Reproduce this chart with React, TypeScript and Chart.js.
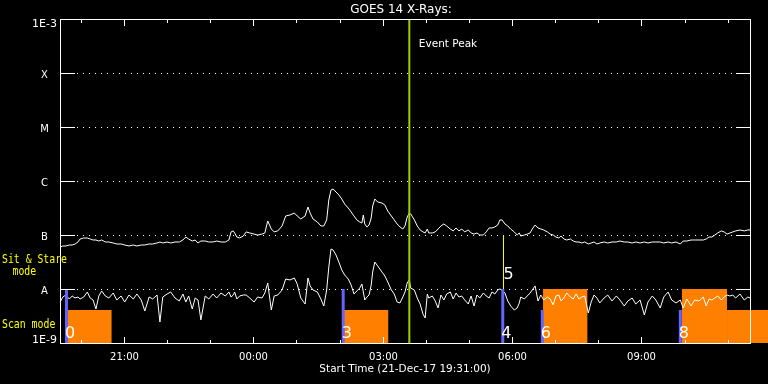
import { useEffect, useRef } from "react";
import { Chart, registerables } from "chart.js";

Chart.register(...registerables);

// ---- text ----
const chartTitle = "GOES 14 X-Rays:";
const xAxisTitle = "Start Time (21-Dec-17 19:31:00)";
const eventLabel = "Event Peak";
const sitStareLabel = ["Sit & Stare", "mode"];
const scanLabel = "Scan mode";

// ---- axes (time in minutes after 19:31:00, 21-Dec-17) ----
const plotStart = 0;
const plotEnd = 960; // 11:31
const windowEnd = 985; // right edge of the picture
const hourTicks = [29, 89, 149, 209, 269, 329, 389, 449, 509, 569, 629, 689, 749, 809, 869, 929];
const majorTicks = [89, 269, 449, 629, 809];
const majorTickLabels = ["21:00", "00:00", "03:00", "06:00", "09:00"];
const levelValues = [1e-3, 1e-4, 1e-5, 1e-6, 1e-7, 1e-8, 1e-9];
const levelLabels = ["1E-3", "X", "M", "C", "B", "A", "1E-9"];
const gridLevels = [1e-4, 1e-5, 1e-6, 1e-7, 1e-8];

// ---- series ----
const times = [
  0, 4, 8, 13, 17, 21, 25, 28, 33, 38,
  42, 46, 50, 54, 58, 63, 68, 74, 79, 85,
  90, 96, 102, 107, 113, 118, 124, 129, 135, 139,
  143, 149, 154, 160, 166, 171, 175, 179, 184, 188,
  192, 196, 202, 207, 213, 218, 224, 230, 235, 238,
  241, 243, 246, 250, 255, 259, 264, 270, 275, 281,
  285, 289, 294, 298, 303, 309, 314, 320, 326, 330,
  335, 341, 345, 348, 352, 358, 363, 367, 371, 374,
  377, 380, 384, 388, 392, 396, 401, 405, 409, 413,
  417, 420, 422, 424, 427, 430, 433, 435, 438, 442,
  448, 452, 456, 461, 465, 469, 473, 477, 480, 483,
  486, 488, 493, 497, 501, 505, 508, 511, 513, 518,
  522, 526, 530, 534, 538, 543, 547, 551, 555, 559,
  563, 568, 572, 576, 580, 584, 589, 593, 597, 601,
  605, 609, 612, 615, 619, 623, 627, 632, 636, 639,
  641, 646, 650, 654, 657, 661, 665, 669, 673, 678,
  682, 686, 690, 694, 697, 701, 705, 710, 714, 718,
  722, 726, 730, 735, 739, 743, 747, 751, 757, 762,
  768, 774, 779, 785, 790, 796, 801, 807, 813, 818,
  824, 829, 835, 840, 846, 851, 857, 863, 867, 872,
  878, 883, 889, 895, 899, 903, 907, 911, 915, 920,
  924, 928, 932, 936, 940, 946, 952, 957, 960,
];

// 1-8 Angstrom channel (W/m^2)
const longFlux = [
  6.00e-8, 6.26e-8, 6.26e-8, 6.53e-8, 6.53e-8, 6.81e-8, 7.42e-8, 8.43e-8, 8.80e-8, 8.80e-8,
  8.43e-8, 8.08e-8, 8.08e-8, 7.74e-8, 8.08e-8, 7.42e-8, 7.42e-8, 7.11e-8, 6.81e-8, 6.81e-8,
  6.53e-8, 6.26e-8, 6.53e-8, 6.26e-8, 6.53e-8, 6.53e-8, 6.81e-8, 6.81e-8, 7.11e-8, 7.42e-8,
  7.11e-8, 7.42e-8, 7.11e-8, 7.42e-8, 7.42e-8, 8.08e-8, 9.18e-8, 8.43e-8, 7.74e-8, 8.08e-8,
  7.11e-8, 7.74e-8, 7.74e-8, 7.42e-8, 7.42e-8, 7.74e-8, 7.42e-8, 7.42e-8, 8.08e-8, 1.14e-7,
  1.19e-7, 1.09e-7, 9.18e-8, 8.80e-8, 9.58e-8, 1.14e-7, 1.09e-7, 1.04e-7, 1.00e-7, 1.04e-7,
  1.09e-7, 1.82e-7, 1.29e-7, 1.14e-7, 1.19e-7, 1.47e-7, 2.25e-7, 2.35e-7, 2.55e-7, 2.25e-7,
  1.98e-7, 2.25e-7, 3.30e-7, 2.55e-7, 1.98e-7, 1.74e-7, 1.47e-7, 1.47e-7, 1.90e-7, 4.45e-7,
  6.81e-7, 7.11e-7, 6.25e-7, 5.51e-7, 4.64e-7, 3.75e-7, 3.16e-7, 2.67e-7, 2.25e-7, 1.90e-7,
  1.74e-7, 1.67e-7, 2.35e-7, 1.60e-7, 1.41e-7, 1.53e-7, 2.07e-7, 3.44e-7, 4.64e-7, 4.08e-7,
  3.91e-7, 3.59e-7, 2.78e-7, 2.25e-7, 1.90e-7, 1.60e-7, 1.41e-7, 1.29e-7, 1.47e-7, 2.15e-7,
  2.55e-7, 2.45e-7, 1.90e-7, 1.47e-7, 1.24e-7, 1.14e-7, 1.09e-7, 1.29e-7, 1.09e-7, 1.09e-7,
  1.14e-7, 1.29e-7, 1.47e-7, 1.60e-7, 1.47e-7, 1.29e-7, 1.19e-7, 1.35e-7, 1.19e-7, 1.29e-7,
  1.14e-7, 1.24e-7, 1.09e-7, 1.04e-7, 1.09e-7, 1.00e-7, 1.00e-7, 1.14e-7, 1.35e-7, 1.35e-7,
  1.41e-7, 1.53e-7, 1.90e-7, 1.90e-7, 1.60e-7, 1.47e-7, 1.29e-7, 1.14e-7, 1.00e-7, 1.09e-7,
  9.58e-8, 1.00e-7, 1.04e-7, 1.09e-7, 1.29e-7, 1.53e-7, 1.35e-7, 1.29e-7, 1.24e-7, 1.14e-7,
  1.04e-7, 1.00e-7, 9.18e-8, 8.80e-8, 9.58e-8, 8.43e-8, 8.08e-8, 8.43e-8, 7.74e-8, 7.42e-8,
  7.42e-8, 7.11e-8, 7.42e-8, 6.81e-8, 7.11e-8, 7.42e-8, 6.81e-8, 7.11e-8, 7.42e-8, 7.11e-8,
  7.42e-8, 7.42e-8, 7.74e-8, 7.42e-8, 7.42e-8, 7.11e-8, 7.42e-8, 7.11e-8, 7.42e-8, 7.11e-8,
  7.42e-8, 7.42e-8, 7.42e-8, 7.11e-8, 7.42e-8, 7.11e-8, 7.42e-8, 6.81e-8, 7.74e-8, 7.74e-8,
  8.08e-8, 8.08e-8, 8.08e-8, 8.08e-8, 8.43e-8, 9.18e-8, 9.18e-8, 1.00e-7, 1.09e-7, 1.19e-7,
  1.14e-7, 1.04e-7, 1.09e-7, 1.14e-7, 1.19e-7, 1.24e-7, 1.19e-7, 1.24e-7, 1.24e-7,
];

// 0.5-4 Angstrom channel (W/m^2)
const shortFlux = [
  5.74e-9, 7.11e-9, 7.74e-9, 6.53e-9, 7.42e-9, 6.81e-9, 7.11e-9, 6.53e-9, 7.11e-9, 8.80e-9,
  6.81e-9, 6.26e-9, 4.26e-9, 7.42e-9, 9.18e-9, 7.42e-9, 6.81e-9, 8.43e-9, 6.26e-9, 7.42e-9,
  5.74e-9, 7.74e-9, 6.53e-9, 8.08e-9, 6.26e-9, 3.91e-9, 7.11e-9, 6.53e-9, 7.74e-9, 2.45e-9,
  7.11e-9, 8.08e-9, 8.80e-9, 6.81e-9, 6.00e-9, 8.08e-9, 5.74e-9, 7.42e-9, 4.26e-9, 6.81e-9,
  6.26e-9, 2.67e-9, 7.42e-9, 6.53e-9, 8.08e-9, 6.81e-9, 8.43e-9, 7.42e-9, 8.80e-9, 7.11e-9,
  7.74e-9, 8.80e-9, 6.53e-9, 7.42e-9, 7.74e-9, 7.74e-9, 6.81e-9, 5.74e-9, 7.11e-9, 6.81e-9,
  8.43e-9, 1.29e-8, 4.08e-9, 7.42e-9, 7.74e-9, 9.58e-9, 1.53e-8, 1.47e-8, 1.60e-8, 1.24e-8,
  6.81e-9, 5.27e-9, 1.60e-8, 1.14e-8, 9.58e-9, 8.80e-9, 6.53e-9, 4.84e-9, 9.58e-9, 2.56e-8,
  5.50e-8, 5.27e-8, 4.26e-8, 3.16e-8, 2.25e-8, 1.82e-8, 1.53e-8, 1.19e-8, 8.08e-9, 9.18e-9,
  1.04e-8, 1.24e-8, 8.80e-9, 6.26e-9, 7.11e-9, 7.74e-9, 1.19e-8, 2.06e-8, 3.16e-8, 2.67e-8,
  2.06e-8, 1.74e-8, 1.35e-8, 9.58e-9, 8.08e-9, 5.74e-9, 5.51e-9, 7.11e-9, 8.80e-9, 1.29e-8,
  1.47e-8, 1.04e-8, 9.58e-9, 6.81e-9, 5.27e-9, 3.44e-9, 2.90e-9, 8.08e-9, 6.81e-9, 7.42e-9,
  6.00e-9, 4.45e-9, 7.74e-9, 6.26e-9, 8.08e-9, 8.80e-9, 6.53e-9, 8.43e-9, 7.11e-9, 7.42e-9,
  6.26e-9, 5.27e-9, 7.42e-9, 4.84e-9, 7.74e-9, 6.81e-9, 8.43e-9, 7.42e-9, 6.81e-9, 8.80e-9,
  8.08e-9, 9.58e-9, 1.00e-8, 9.58e-9, 8.43e-9, 6.00e-9, 4.84e-9, 4.08e-9, 4.45e-9, 5.51e-9,
  7.11e-9, 6.53e-9, 7.42e-9, 8.43e-9, 9.58e-9, 1.14e-8, 6.00e-9, 7.74e-9, 6.26e-9, 7.11e-9,
  6.53e-9, 5.06e-9, 7.42e-9, 7.74e-9, 6.00e-9, 6.81e-9, 8.43e-9, 7.11e-9, 6.53e-9, 8.08e-9,
  6.53e-9, 7.11e-9, 7.42e-9, 3.59e-9, 5.74e-9, 7.74e-9, 6.81e-9, 5.51e-9, 6.81e-9, 7.74e-9,
  6.00e-9, 7.42e-9, 6.26e-9, 4.84e-9, 6.00e-9, 6.81e-9, 5.27e-9, 6.26e-9, 3.30e-9, 5.74e-9,
  7.42e-9, 6.26e-9, 4.45e-9, 7.11e-9, 8.80e-9, 6.26e-9, 5.51e-9, 6.26e-9, 4.45e-9, 6.53e-9,
  4.84e-9, 6.26e-9, 6.00e-9, 7.11e-9, 4.84e-9, 6.53e-9, 6.26e-9, 6.81e-9, 7.42e-9, 6.26e-9,
  7.11e-9, 7.74e-9, 7.42e-9, 7.74e-9, 6.81e-9, 8.08e-9, 6.26e-9, 7.11e-9, 6.81e-9,
];

// ---- markers ----
const eventPeakTime = 486;
const scanStarts = [9, 394, 616, 671, 863];
const scanTops = [1e-8, 1e-8, 1e-8, 4.08e-9, 4.08e-9];
const scanNumbers = ["0", "3", "4", "6", "8"];
const marker5Time = 617;
const marker5Range = [1e-8, 1e-7];
const marker5Label = "5";
const modeStarts = [10, 395, 672, 865, 928];
const modeEnds = [72, 457, 734, 928, 990];
const modeLevels = [4.08e-9, 4.08e-9, 1e-8, 1e-8, 4.08e-9];

// ---- styles ----
const WHITE = "#ffffff";
const ORANGE = "#ff8000";
const BLUE = "#6464ff";
const GREEN = "#a0d000";
const YELLOW = "#ffff00";
const SANS = '"DejaVu Sans", sans-serif';
const MONO = '"DejaVu Sans Mono", monospace';

function drawText(ctx: CanvasRenderingContext2D, s: string, x: number, y: number, font: string, color: string, align: CanvasTextAlign = "left", sx = 1) {
  ctx.save();
  ctx.font = font;
  ctx.fillStyle = color;
  ctx.textBaseline = "alphabetic";
  ctx.textAlign = align;
  ctx.translate(x, y);
  ctx.scale(sx, 1);
  ctx.fillText(s, 0, 0);
  ctx.restore();
}

const goesPlugin = {
  id: "goesFrame",
  beforeDatasetsDraw(chart: any) {
    const { ctx, scales } = chart;
    const xs = scales.x, ys = scales.y;
    const left = Math.round(xs.getPixelForValue(plotStart));
    const right = Math.round(xs.getPixelForValue(plotEnd));
    ctx.save();
    ctx.fillStyle = WHITE;
    for (const lv of gridLevels) {
      const py = Math.round(ys.getPixelForValue(lv));
      for (let px = left + 17; px <= right - 17; px += 6) ctx.fillRect(px, py, 1, 1);
    }
    ctx.restore();
  },
  afterDatasetsDraw(chart: any) {
    const { ctx, scales } = chart;
    const xs = scales.x, ys = scales.y;
    const left = Math.round(xs.getPixelForValue(plotStart));
    const right = Math.round(xs.getPixelForValue(plotEnd));
    const top = Math.round(ys.getPixelForValue(levelValues[0]));
    const bottom = Math.round(ys.getPixelForValue(levelValues[levelValues.length - 1]));
    ctx.save();
    ctx.strokeStyle = WHITE;
    ctx.lineWidth = 1;
    ctx.strokeRect(left + 0.5, top + 0.5, right - left, bottom - top);
    ctx.fillStyle = WHITE;
    for (const lv of gridLevels) {
      const py = Math.round(ys.getPixelForValue(lv));
      ctx.fillRect(left, py, 15, 1);
      ctx.fillRect(right - 14, py, 15, 1);
    }
    for (const t of hourTicks) {
      const px = Math.round(xs.getPixelForValue(t));
      const len = majorTicks.includes(t) ? 7 : 4;
      ctx.fillRect(px, top, 1, len);
      ctx.fillRect(px, bottom - len + 1, 1, len);
    }
    ctx.restore();
  },
  afterDraw(chart: any) {
    const { ctx, scales } = chart;
    const xs = scales.x, ys = scales.y;
    const left = xs.getPixelForValue(plotStart);
    const right = xs.getPixelForValue(plotEnd);
    const mid = (left + right) / 2;
    const top = ys.getPixelForValue(levelValues[0]);
    const bottom = ys.getPixelForValue(levelValues[levelValues.length - 1]);

    drawText(ctx, chartTitle, mid - 4, top - 6, `12px ${SANS}`, WHITE, "center");
    drawText(ctx, xAxisTitle, mid, bottom + 29, `10.5px ${SANS}`, WHITE, "center");

    levelValues.forEach((v, i) => {
      const py = ys.getPixelForValue(v);
      const lbl = levelLabels[i];
      if (i === 0) drawText(ctx, lbl, 44.5, py + 8, `11px ${SANS}`, WHITE, "center");
      else if (i === levelValues.length - 1) drawText(ctx, lbl, 44.5, py, `11px ${SANS}`, WHITE, "center");
      else drawText(ctx, lbl, 44.5, py + 4.5, `10px ${SANS}`, WHITE, "center");
    });

    majorTicks.forEach((t, i) => {
      const px = Math.round(xs.getPixelForValue(t)) + 0.5;
      drawText(ctx, majorTickLabels[i], px, bottom + 17, `10px ${SANS}`, WHITE, "center");
    });

    // mode labels
    const aPix = ys.getPixelForValue(1e-8);
    drawText(ctx, sitStareLabel[0], 2, aPix - 26, `13px ${MONO}`, YELLOW, "left", 0.755);
    drawText(ctx, sitStareLabel[1], 12.5, aPix - 14, `13px ${MONO}`, YELLOW, "left", 0.755);
    drawText(ctx, scanLabel, 2, aPix + 39, `12px ${MONO}`, YELLOW, "left", 0.82);

    // event peak label
    const ep = xs.getPixelForValue(eventPeakTime);
    drawText(ctx, eventLabel, ep + 9.5, top + 28, `10.5px ${SANS}`, WHITE, "left");

    // scan numbers
    scanStarts.forEach((t, i) => {
      const px = xs.getPixelForValue(t);
      drawText(ctx, scanNumbers[i], px - 1.5, bottom - 5, `16px ${SANS}`, WHITE, "left");
    });
    const p5 = xs.getPixelForValue(marker5Time);
    const y5 = ys.getPixelForValue(marker5Range[0]);
    drawText(ctx, marker5Label, p5, y5 - 10.5, `16px ${SANS}`, WHITE, "left");
  },
};

const vline = (t: number, lo: number, hi: number) => [{ x: t, y: lo }, { x: t, y: hi }];
const series = (xs: number[], ys: number[]) => xs.map((t, i) => ({ x: t, y: ys[i] }));

export default function App() {
  const ref = useRef<HTMLCanvasElement | null>(null);
  useEffect(() => {
    if (!ref.current) return;
    const common = { pointRadius: 0, tension: 0, fill: false, borderCapStyle: "butt" };
    const datasets: any[] = [
      { ...common, data: vline(eventPeakTime, levelValues[6], levelValues[0]), borderColor: GREEN, borderWidth: 2, order: 0 },
      { ...common, data: vline(marker5Time, marker5Range[0], marker5Range[1]), borderColor: YELLOW, borderWidth: 1, order: 0 },
      ...scanStarts.map((t, i) => ({ ...common, data: vline(t, levelValues[6], scanTops[i]), borderColor: BLUE, borderWidth: 3, order: 0 })),
      { ...common, data: series(times, longFlux), borderColor: WHITE, borderWidth: 1, order: 1 },
      { ...common, data: series(times, shortFlux), borderColor: WHITE, borderWidth: 1, order: 1 },
      ...modeStarts.map((s, i) => ({
        ...common,
        data: [{ x: s, y: modeLevels[i] }, { x: modeEnds[i], y: modeLevels[i] }],
        fill: "start",
        backgroundColor: ORANGE,
        borderColor: ORANGE,
        borderWidth: 0,
        order: 2,
      })),
    ];
    const chart = new Chart(ref.current, {
      type: "line",
      data: { datasets },
      options: {
        animation: false,
        responsive: false,
        devicePixelRatio: 1,
        events: [],
        layout: { padding: { left: 60, top: 19, right: 0, bottom: 41 } },
        plugins: { legend: { display: false }, tooltip: { enabled: false }, title: { display: false } },
        scales: {
          x: { type: "linear", min: plotStart, max: windowEnd, display: false },
          y: { type: "logarithmic", min: levelValues[6], max: levelValues[0], display: false },
        },
      },
      plugins: [goesPlugin],
    } as any);
    return () => chart.destroy();
  }, []);
  return (
    <div style={{ position: "fixed", left: 0, top: 0, width: 768, height: 384, background: "#000", overflow: "hidden" }}>
      <canvas ref={ref} width={768} height={384} style={{ display: "block" }} />
    </div>
  );
}
